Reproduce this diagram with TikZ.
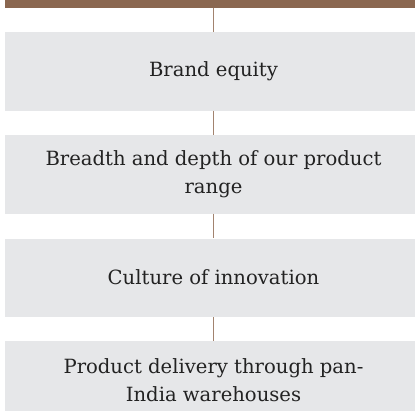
\documentclass[tikz,border=0pt]{standalone}
\usepackage{fontspec}
\setmainfont{DejaVu Serif}
\definecolor{barbrown}{HTML}{8A6750}
\definecolor{linebrown}{HTML}{A2836F}
\definecolor{boxgray}{HTML}{E6E7E9}
\definecolor{txt}{HTML}{222222}
\begin{document}
\begin{tikzpicture}[x=1pt,y=-1pt,
  box/.style={fill=boxgray, draw=none, minimum width=417pt, minimum height=78.3pt,
    inner sep=0pt, align=center, text=txt, font=\fontsize{19.6}{28}\selectfont},
  conn/.style={draw=linebrown, line width=0.9pt}]
\useasboundingbox (0,0) rectangle (415,410);
\fill[white] (0,0) rectangle (415,410);
\node[fill=barbrown, minimum width=417pt, minimum height=7.5pt, inner sep=0pt, anchor=north west] (bar) at (5,0) {};
\node[box, anchor=north] (b1) at (213.5,32) {Brand equity};
\node[box, anchor=north] (b2) at (213.5,135) {Breadth and depth of our product\\range};
\node[box, anchor=north] (b3) at (213.5,238.3) {Culture of innovation};
\node[box, anchor=north] (b4) at (213.5,340.7) {Product delivery through pan-\\India warehouses};
\coordinate (bt) at (213.5,7.5);
\draw[conn] (bt) -- (b1.north);
\draw[conn] (b1.south) -- (b2.north);
\draw[conn] (b2.south) -- (b3.north);
\draw[conn] (b3.south) -- (b4.north);
\end{tikzpicture}
\end{document}
